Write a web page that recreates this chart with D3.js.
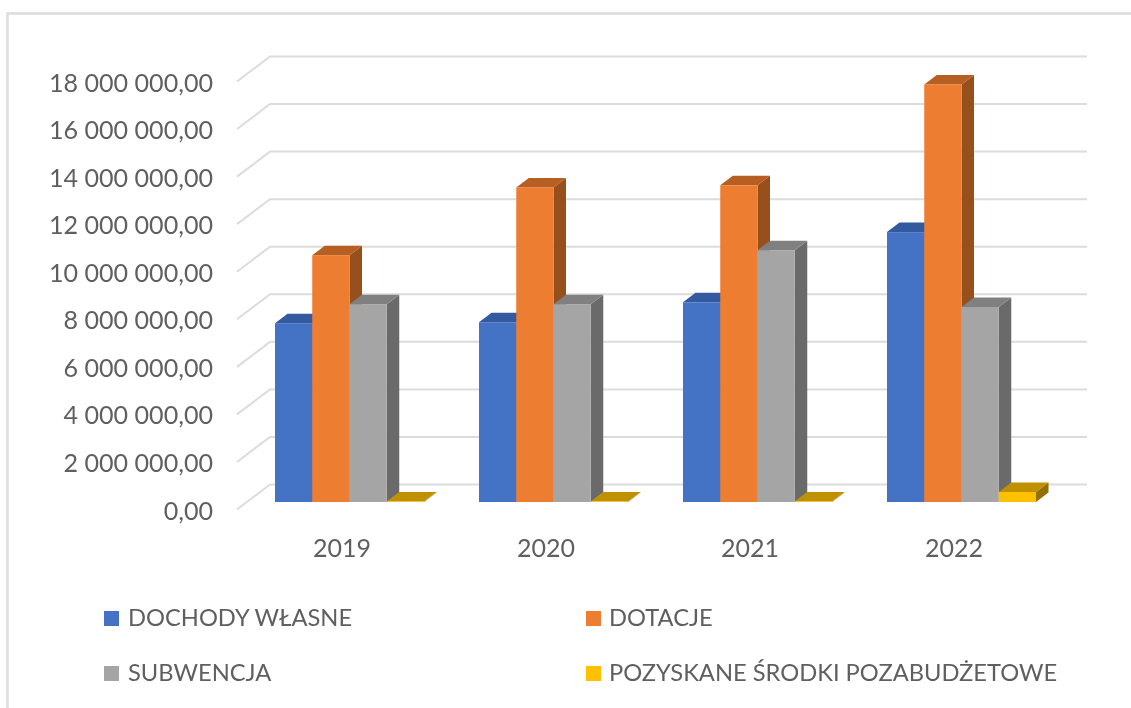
<!DOCTYPE html>
<html><head><meta charset="utf-8">
<script src="https://cdn.jsdelivr.net/npm/d3@7/dist/d3.min.js"></script>
<style>html,body{margin:0;padding:0;background:#fff}svg{display:block;filter:blur(0.45px)}text{font-family:Lato,"Open Sans",sans-serif;fill:#5f5f5f}</style>
</head><body><script>
const years = ["2019","2020","2021","2022"];
const seriesNames = ["DOCHODY WŁASNE","DOTACJE","SUBWENCJA","POZYSKANE ŚRODKI POZABUDŻETOWE"];
const dochody = [7520000,7560000,8400000,11350000];
const dotacje = [10380000,13230000,13320000,17560000];
const subwencja = [8320000,8320000,10590000,8200000];
const pozyskane = [20000,20000,20000,420000];
const tickValues = [0,2e6,4e6,6e6,8e6,10e6,12e6,14e6,16e6,18e6];
const frontColors = ["#4472C4","#ED7D31","#A5A5A5","#FFC000"];
const topColors = ["#335A9F","#B75F23","#808080","#BF9000"];
const sideColors = ["#2F5490","#97501C","#6A6A6A","#957000"];

const W=1131,H=708;
const svg=d3.select("body").append("svg").attr("width",W).attr("height",H);
svg.append("path").attr("d",`M1131,13.5H7.5V708`).attr("fill","none").attr("stroke","#dcdcdc").attr("stroke-width",2.5);

const seriesValues=[dochody,dotacje,subwencja,pozyskane];
const y=d3.scaleLinear().domain([0,18e6]).range([502,74]);
const x=d3.scaleBand().domain(years).range([241,1057]);
const inner=d3.scaleBand().domain(d3.range(4)).range([34,183]);
const wallDx=33,wallDy=-17.5,tickDy=7.5,barDx=12.5,barDy=-9.5;

// walls and gridlines
const grid=svg.append("g").attr("fill","none").attr("stroke","#dcdcdc").attr("stroke-width",2);
grid.selectAll("path").data(tickValues).join("path")
  .attr("d",v=>`M237,${y(v)+tickDy}L${237+wallDx},${y(v)+wallDy}H1087`);

// value labels via axis
const loc=d3.formatLocale({decimal:",",thousands:" ",grouping:[3],currency:["",""]});
const axis=d3.axisLeft(y).tickValues(tickValues).tickFormat(loc.format(",.2f")).tickSize(0).tickPadding(0);
const ag=svg.append("g").attr("transform","translate(213,9)").call(axis);
ag.select(".domain").remove();
ag.selectAll("text").attr("font-size",25.1).attr("dy","0.32em").style("fill","#5f5f5f");

// bars
const g=svg.append("g");
years.forEach((yr,c)=>{
  seriesValues.forEach((vals,s)=>{
    const v=vals[c],x0=x(yr)+inner(s),x1=x0+inner.bandwidth(),yt=y(v),yb=y(0);
    g.append("path").attr("fill",sideColors[s]).attr("d",`M${x1},${yt}L${x1+barDx},${yt+barDy}V${yb+barDy}L${x1},${yb}Z`);
    g.append("path").attr("fill",topColors[s]).attr("d",`M${x0},${yt}L${x0+barDx},${yt+barDy}H${x1+barDx}L${x1},${yt}Z`);
    g.append("rect").attr("x",x0).attr("y",yt).attr("width",inner.bandwidth()).attr("height",yb-yt).attr("fill",frontColors[s]);
  });
});

// category labels
svg.append("g").selectAll("text").data(years).join("text")
  .attr("x",d=>x(d)+x.bandwidth()/2-1).attr("y",557).attr("text-anchor","middle").attr("font-size",25).text(d=>d);

// legend
const lx=[104,586],ly=[611,666];
seriesNames.forEach((n,i)=>{
  const c=i%2,r=Math.floor(i/2);
  svg.append("rect").attr("x",lx[c]).attr("y",ly[r]).attr("width",15).attr("height",15).attr("fill",frontColors[i]);
  svg.append("text").attr("x",lx[c]+(c?23:24)).attr("y",ly[r]+15).attr("font-size",23.7).text(n);
});
</script></body></html>
